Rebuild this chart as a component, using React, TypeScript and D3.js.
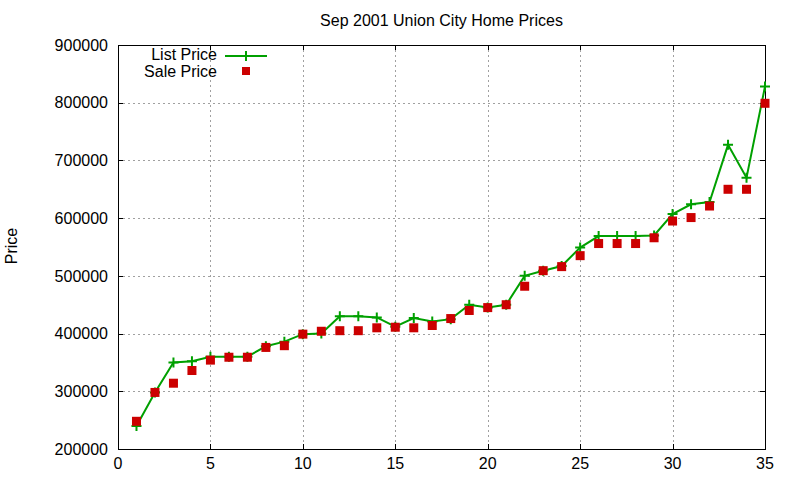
import { useEffect, useRef } from 'react';
import * as d3 from 'd3';

const houseIndex = d3.range(1, 36);
const listPrice = [
  240000, 298000, 350000, 352000, 360000, 360000, 360000, 378000, 386000, 399000,
  400000, 430000, 430000, 428000, 412000, 427000, 421000, 425000, 450000, 445000,
  450000, 500000, 509000, 517000, 549000, 569000, 569000, 569000, 570000, 607000,
  624000, 628000, 727000, 670000, 828000,
];
const salePrice = [
  248000, 298000, 314000, 336000, 354000, 359000, 359000, 376000, 379000, 399000,
  404000, 405000, 405000, 410000, 411000, 410000, 414000, 426000, 440000, 445000,
  450000, 482000, 509000, 516000, 535000, 556000, 556000, 556000, 566000, 595000,
  601000, 621000, 650000, 650000, 799000,
];
const xTicks = [0, 5, 10, 15, 20, 25, 30, 35];
const yTicks = [200000, 300000, 400000, 500000, 600000, 700000, 800000, 900000];

const FONT = '"Liberation Sans", Arial, sans-serif';
const GREEN = '#00a000';
const RED = '#cc0000';

function PriceChart() {
  const svgRef = useRef<SVGSVGElement>(null);
  const width = 800;
  const height = 480;

  useEffect(() => {
    if (!svgRef.current) return;
    const svg = d3.select(svgRef.current);
    svg.selectAll('*').remove();

    const left = 118, right = 765, top = 45, bottom = 449;
    const x = d3.scaleLinear().domain([0, 35]).range([left, right]);
    const y = d3.scaleLinear().domain([200000, 900000]).range([bottom, top]);

    // grid
    const grid = svg.append('g')
      .attr('stroke', '#a0a0a0')
      .attr('stroke-width', 1)
      .attr('stroke-dasharray', '2,3');
    xTicks.slice(1, -1).forEach(t => {
      grid.append('line')
        .attr('x1', Math.round(x(t)) + 0.5).attr('x2', Math.round(x(t)) + 0.5)
        .attr('y1', top).attr('y2', bottom);
    });
    yTicks.slice(1, -1).forEach(t => {
      grid.append('line')
        .attr('x1', left).attr('x2', right)
        .attr('y1', Math.round(y(t)) + 0.5).attr('y2', Math.round(y(t)) + 0.5);
    });

    // tick marks, mirrored inward
    const ticks = svg.append('g').attr('stroke', '#000').attr('stroke-width', 1);
    yTicks.forEach(t => {
      const yy = Math.round(y(t)) + 0.5;
      ticks.append('line').attr('x1', left).attr('x2', left + 5).attr('y1', yy).attr('y2', yy);
      ticks.append('line').attr('x1', right - 5).attr('x2', right).attr('y1', yy).attr('y2', yy);
    });
    xTicks.forEach(t => {
      const xx = Math.round(x(t)) + 0.5;
      ticks.append('line').attr('x1', xx).attr('x2', xx).attr('y1', bottom).attr('y2', bottom - 5);
      ticks.append('line').attr('x1', xx).attr('x2', xx).attr('y1', top).attr('y2', top + 5);
    });

    // border
    svg.append('rect')
      .attr('x', left + 0.5).attr('y', top + 0.5)
      .attr('width', right - left).attr('height', bottom - top)
      .attr('fill', 'none').attr('stroke', '#000').attr('stroke-width', 1);

    // tick labels
    svg.append('g').selectAll('text')
      .data(yTicks)
      .enter()
      .append('text')
      .attr('x', left - 10)
      .attr('y', d => y(d))
      .attr('dy', '0.36em')
      .attr('text-anchor', 'end')
      .attr('font-size', '16px')
      .style('font-family', FONT)
      .text(d => d);

    svg.append('g').selectAll('text')
      .data(xTicks)
      .enter()
      .append('text')
      .attr('x', d => x(d))
      .attr('y', bottom + 20)
      .attr('text-anchor', 'middle')
      .attr('font-size', '16px')
      .style('font-family', FONT)
      .text(d => d);

    // title and axis label
    svg.append('text')
      .attr('x', (left + right) / 2)
      .attr('y', 26)
      .attr('text-anchor', 'middle')
      .attr('font-size', '16px')
      .style('font-family', FONT)
      .text('Sep 2001 Union City Home Prices');

    svg.append('text')
      .attr('transform', `translate(17, 246) rotate(-90)`)
      .attr('text-anchor', 'middle')
      .attr('font-size', '16px')
      .style('font-family', FONT)
      .text('Price');

    // list price line
    const line = d3.line<number>()
      .x((_, i) => x(houseIndex[i]))
      .y(d => y(d));

    svg.append('path')
      .datum(listPrice)
      .attr('d', line)
      .attr('fill', 'none')
      .attr('stroke', GREEN)
      .attr('stroke-width', 2);

    const plus = (g: d3.Selection<SVGGElement, unknown, null, undefined>, cx: number, cy: number) => {
      g.append('path')
        .attr('d', `M${cx - 5},${cy}H${cx + 5}M${cx},${cy - 5}V${cy + 5}`)
        .attr('stroke', GREEN)
        .attr('stroke-width', 2)
        .attr('fill', 'none');
    };

    const marks = svg.append('g');
    listPrice.forEach((v, i) => plus(marks, x(houseIndex[i]), y(v)));

    // sale price squares
    svg.append('g').selectAll('rect')
      .data(salePrice)
      .enter()
      .append('rect')
      .attr('x', (_, i) => x(houseIndex[i]) - 4.5)
      .attr('y', d => y(d) - 4.5)
      .attr('width', 9)
      .attr('height', 9)
      .attr('fill', RED);

    // legend
    const legend = svg.append('g');
    legend.append('text')
      .attr('x', 217).attr('y', 55).attr('dy', '0.34em')
      .attr('text-anchor', 'end')
      .attr('font-size', '16px')
      .style('font-family', FONT)
      .text('List Price');
    legend.append('line')
      .attr('x1', 225).attr('x2', 267).attr('y1', 56).attr('y2', 56)
      .attr('stroke', GREEN).attr('stroke-width', 2);
    plus(legend, 246, 56);

    legend.append('text')
      .attr('x', 217).attr('y', 72).attr('dy', '0.34em')
      .attr('text-anchor', 'end')
      .attr('font-size', '16px')
      .style('font-family', FONT)
      .text('Sale Price');
    legend.append('rect')
      .attr('x', 242).attr('y', 67).attr('width', 8).attr('height', 8)
      .attr('fill', RED);
  }, []);

  return (
    <svg
      ref={svgRef}
      width={width}
      height={height}
      style={{ position: 'absolute', left: 0, top: 0, background: '#fff' }}
    />
  );
}

export default function App() {
  return <PriceChart />;
}
